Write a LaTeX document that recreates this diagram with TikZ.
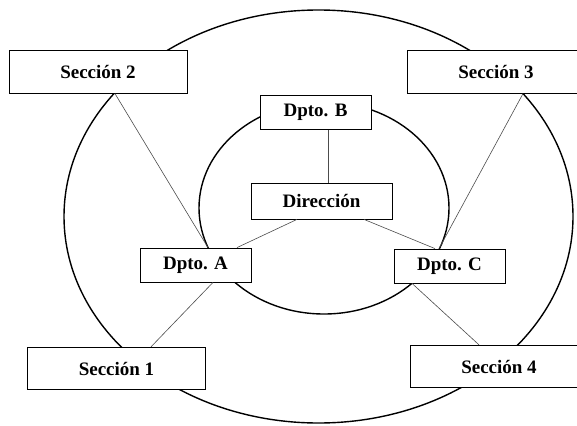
\documentclass[tikz,border=0pt]{standalone}
\usepackage{fontspec}
\setmainfont{Liberation Serif}
\begin{document}
\begin{tikzpicture}[x=1pt,y=-1pt,
  ring/.style={line width=1.4pt},
  link/.style={line width=0.6pt, draw=black!70},
  unit/.style={draw, line width=0.8pt, fill=white, inner sep=0pt,
    font=\fontsize{19}{22}\selectfont\bfseries},
  dept/.style={unit, minimum width=111pt, minimum height=34pt},
  sect/.style={unit, minimum width=178pt, minimum height=42.5pt}]
  \useasboundingbox (0,0) rectangle (577,425);
  \clip (0,0) rectangle (577,425);
  % two concentric rings
  \draw[ring] (318.5,216.5) ellipse [x radius=254.5pt, y radius=206.5pt];
  \draw[ring] (324,208) ellipse [x radius=125pt, y radius=106pt];
  % boxes
  \node[sect] (s2) at (98,72) {Sección 2};
  \node[sect] (s3) at (496,72) {Sección 3};
  \node[dept] (db) at (315.5,112.5) {Dpto. B};
  \node[unit, minimum width=141pt, minimum height=36pt] (dir) at (321.5,201) {Dirección};
  \node[dept] (da) at (195.5,265) {Dpto. A};
  \node[dept] (dc) at (449.5,266) {Dpto. C};
  \node[sect] (s1) at (116.5,368.5) {Sección 1};
  \node[sect] (s4) at (499,366.5) {Sección 4};
  % links
  \draw[link] ([xshift=17pt]s2.south) -- ([xshift=12.5pt]da.north);
  \draw[link] ([xshift=27pt]s3.south) -- ([xshift=-10.5pt]dc.north);
  \draw[link] ([xshift=12.5pt]db.south) -- ([xshift=6.5pt]dir.north);
  \draw[link] ([xshift=-24.5pt]dir.south) -- ([xshift=41.5pt]da.north);
  \draw[link] ([xshift=42.5pt]dir.south) -- ([xshift=-14.5pt]dc.north);
  \draw[link] ([xshift=17.5pt]da.south) -- ([xshift=34.5pt]s1.north);
  \draw[link] ([xshift=-37.5pt]dc.south) -- ([xshift=-20pt]s4.north);
\end{tikzpicture}
\end{document}
